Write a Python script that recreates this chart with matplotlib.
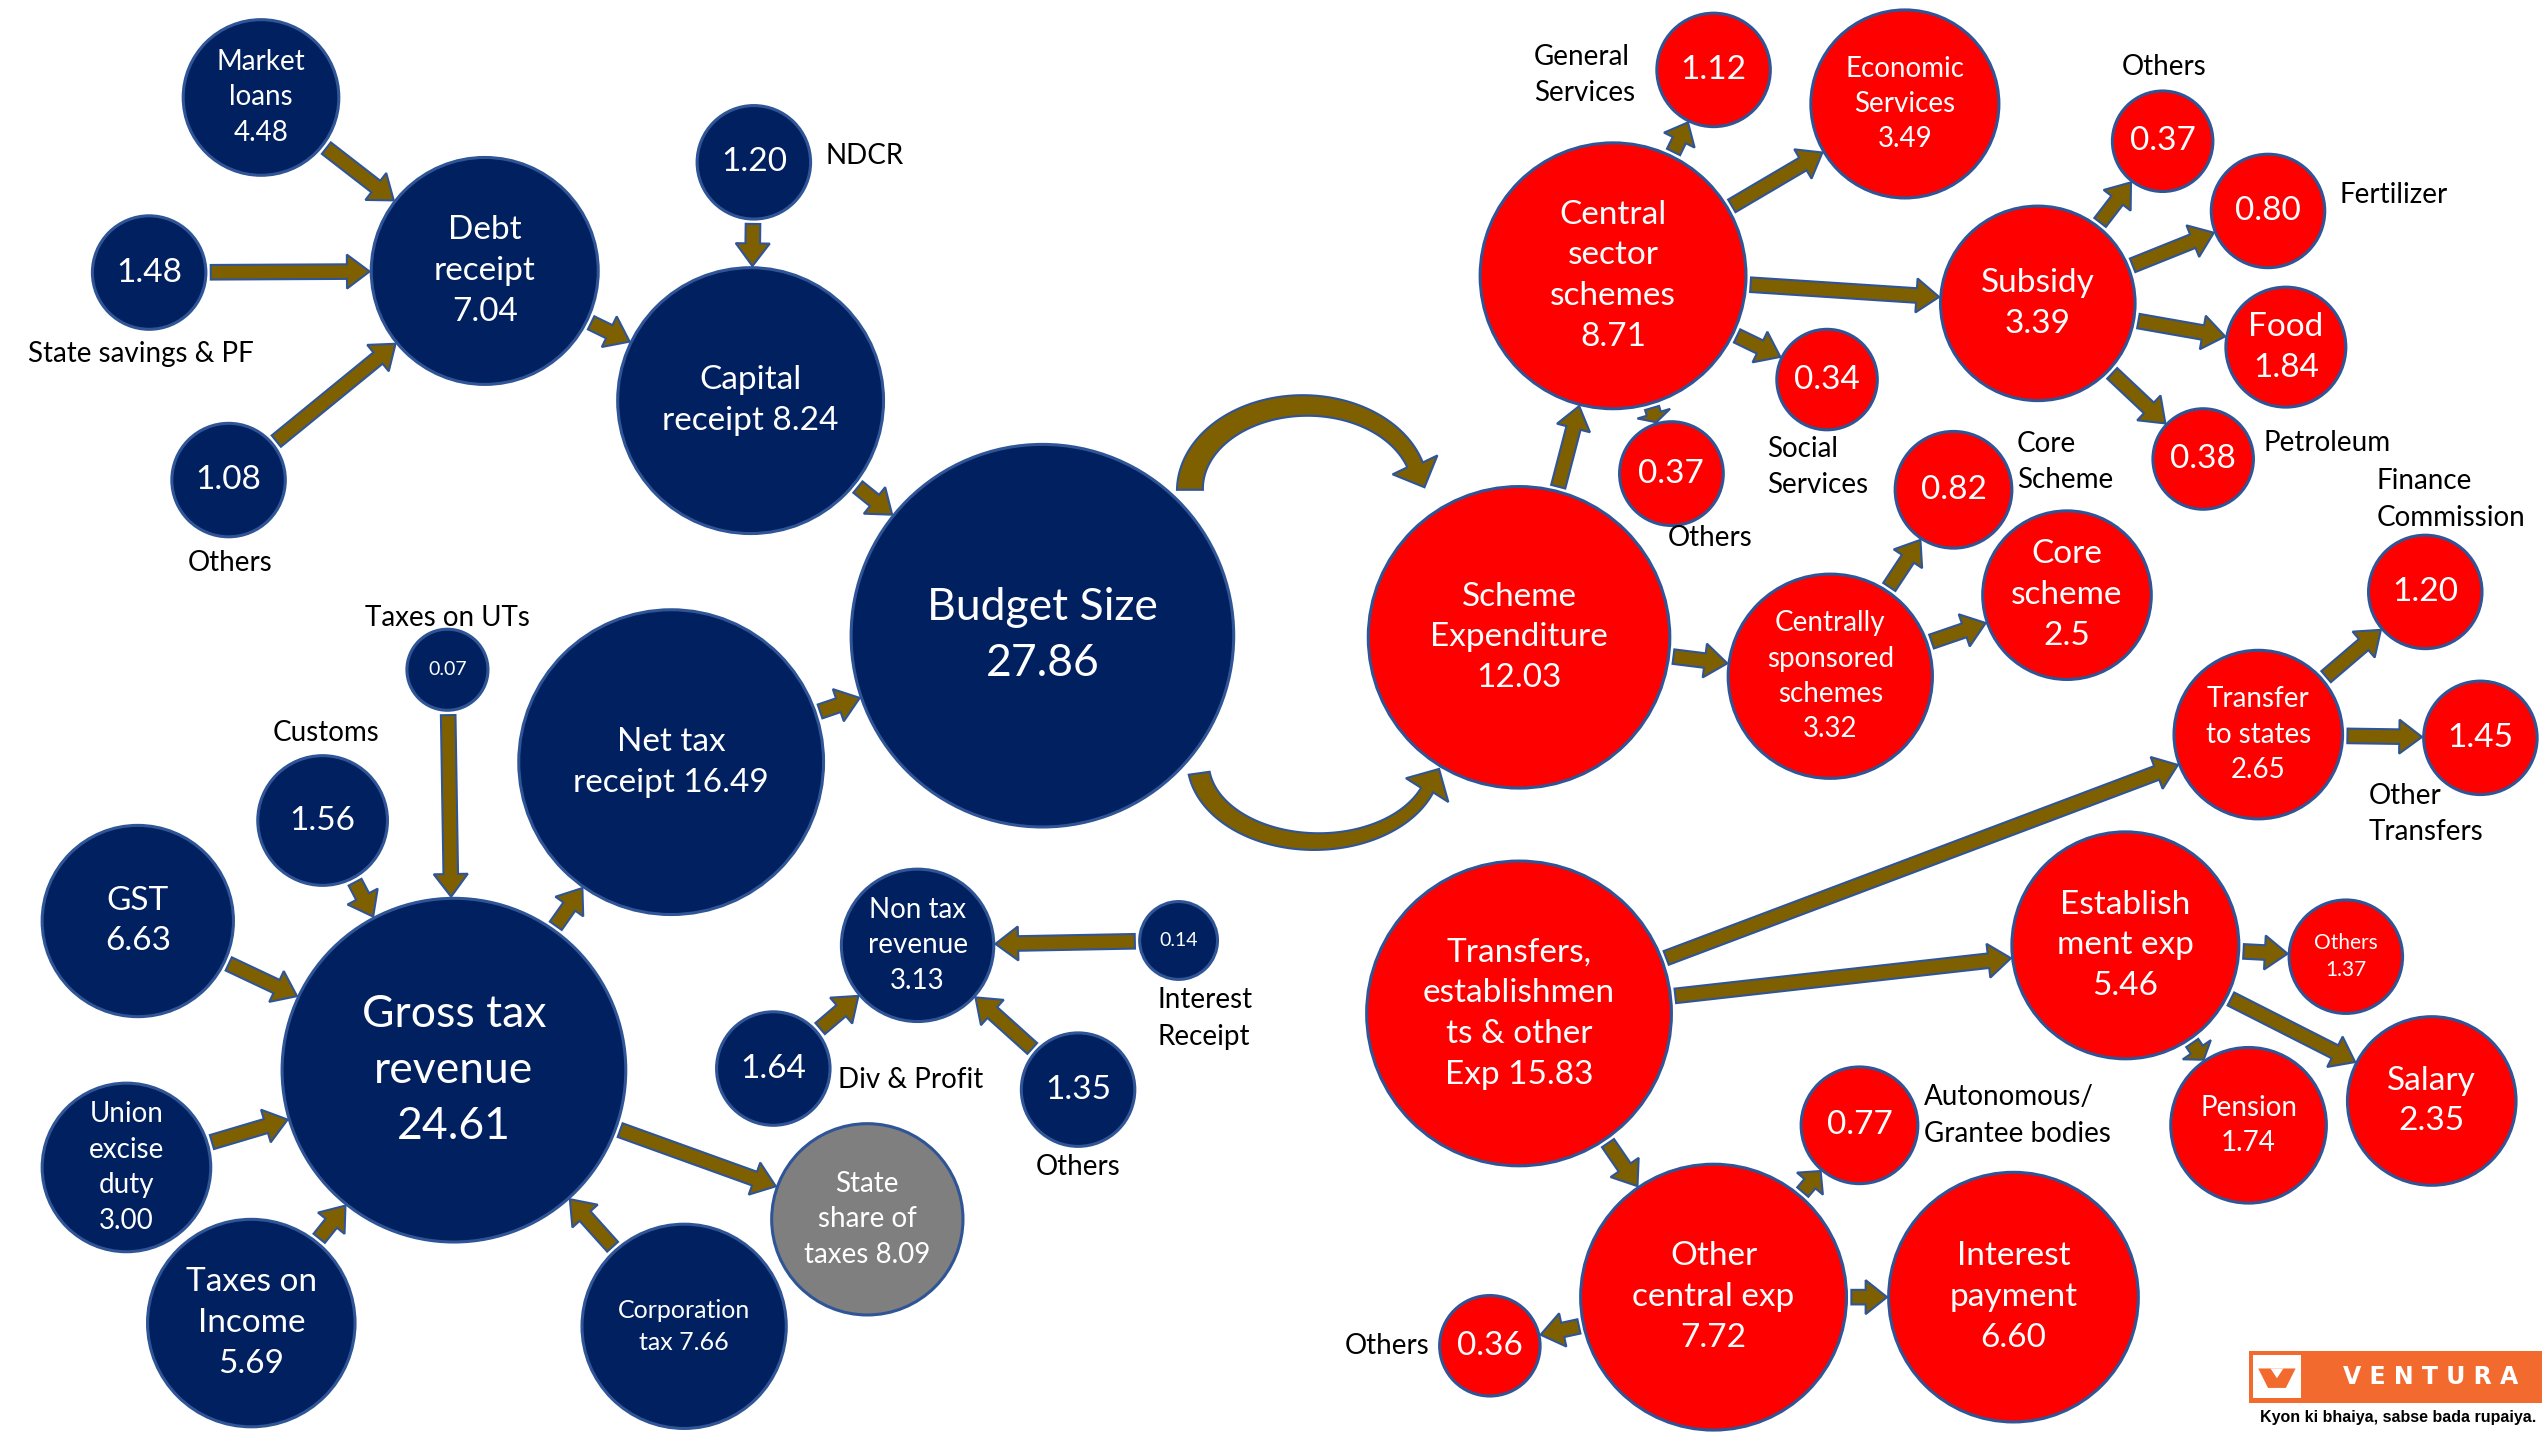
import numpy as np
import matplotlib
matplotlib.use("Agg")
import matplotlib.pyplot as plt
import matplotlib.patches as mpatches

plt.rcParams['font.family'] = ['Lato', 'DejaVu Sans']

# ---------------- data ----------------
node_keys = [
    "market", "debt", "savings", "dothers", "ndcr", "capital", "budget", "nettax",
    "uts", "customs", "gst", "gross", "excise", "income", "corp", "stateshare",
    "nontax", "interest_rec", "div", "ntothers",
    "scheme", "central", "general", "economic", "subsidy", "subothers", "fert",
    "food", "petro", "social", "csothers", "css", "core1", "core2", "fc",
    "tstates", "othertr", "transfers", "estab", "estothers", "salary", "pension",
    "auton", "othercentral", "intpay", "ocothers",
]
node_labels = [
    "Market\nloans\n{}", "Debt\nreceipt\n{}", "{}", "{}", "{}", "Capital\nreceipt {}",
    "Budget Size\n{}", "Net tax\nreceipt {}",
    "{}", "{}", "GST\n{}", "Gross tax\nrevenue\n{}", "Union\nexcise\nduty\n{}",
    "Taxes on\nIncome\n{}", "Corporation\ntax {}", "State\nshare of\ntaxes {}",
    "Non tax\nrevenue\n{}", "{}", "{}", "{}",
    "Scheme\nExpenditure\n{}", "Central\nsector\nschemes\n{}", "{}", "Economic\nServices\n{}",
    "Subsidy\n{}", "{}", "{}", "Food\n{}", "{}", "{}", "{}",
    "Centrally\nsponsored\nschemes\n{}", "{}", "Core\nscheme\n{}", "{}",
    "Transfer\nto states\n{}", "{}", "Transfers,\nestablishmen\nts & other\nExp {}",
    "Establish\nment exp\n{}", "Others\n{}", "Salary\n{}", "Pension\n{}",
    "{}", "Other\ncentral exp\n{}", "Interest\npayment\n{}", "{}",
]
node_values = [
    4.48, 7.04, 1.48, 1.08, 1.20, 8.24, 27.86, 16.49,
    0.07, 1.56, 6.63, 24.61, 3.00, 5.69, 7.66, 8.09,
    3.13, 0.14, 1.64, 1.35,
    12.03, 8.71, 1.12, 3.49, 3.39, 0.37, 0.80, 1.84, 0.38, 0.34, 0.37,
    3.32, 0.82, 2.5, 1.20, 2.65, 1.45, 15.83, 5.46, 1.37, 2.35, 1.74,
    0.77, 7.72, 6.60, 0.36,
]
node_decimals = [2] * len(node_values)
node_decimals[node_keys.index("core2")] = 1

edges = [
    ("market", "debt"), ("savings", "debt"), ("dothers", "debt"), ("ndcr", "capital"),
    ("debt", "capital"), ("capital", "budget"), ("nettax", "budget"),
    ("uts", "gross"), ("customs", "gross"), ("gst", "gross"), ("excise", "gross"),
    ("income", "gross"), ("corp", "gross"), ("gross", "stateshare"), ("gross", "nettax"),
    ("interest_rec", "nontax"), ("div", "nontax"), ("ntothers", "nontax"),
    ("scheme", "central"), ("central", "general"), ("central", "economic"),
    ("central", "subsidy"), ("central", "social"), ("central", "csothers"),
    ("subsidy", "subothers"), ("subsidy", "fert"), ("subsidy", "food"), ("subsidy", "petro"),
    ("scheme", "css"), ("css", "core1"), ("css", "core2"),
    ("tstates", "fc"), ("tstates", "othertr"), ("transfers", "tstates"),
    ("transfers", "estab"), ("transfers", "othercentral"),
    ("estab", "estothers"), ("estab", "salary"), ("estab", "pension"),
    ("othercentral", "auton"), ("othercentral", "intpay"), ("othercentral", "ocothers"),
]

outside_labels = [
    "State savings & PF", "Others", "NDCR", "Taxes on UTs", "Customs",
    "Interest\nReceipt", "Div & Profit", "Others",
    "General\nServices", "Others", "Fertilizer", "Petroleum", "Social\nServices",
    "Others", "Core\nScheme", "Finance\nCommission", "Other\nTransfers",
    "Autonomous/\nGrantee bodies", "Others",
]

# ---------------- layout (canvas units, y down) ----------------
NAVY, RED, GREY = "#002060", "#FF0000", "#7F7F7F"
node_pos = {
    "market": (161, 60, 48), "debt": (299, 167, 70), "savings": (92, 168, 35),
    "dothers": (141, 296, 35), "ndcr": (465, 100, 35), "capital": (463, 247, 82),
    "budget": (643, 392, 118), "nettax": (414, 470, 94), "uts": (276, 413, 25),
    "customs": (199, 506, 40), "gst": (85, 568, 59), "gross": (280, 660, 106),
    "excise": (78, 720, 52), "income": (155, 816, 64), "corp": (422, 818, 63),
    "stateshare": (535, 752, 59), "nontax": (566, 583, 47), "interest_rec": (727, 580, 24),
    "div": (477, 659, 35), "ntothers": (665, 672, 35),
    "scheme": (937, 393, 93), "central": (995, 170, 82), "general": (1057, 43, 35),
    "economic": (1175, 64, 58), "subsidy": (1257, 187, 60), "subothers": (1334, 87, 31),
    "fert": (1399, 130, 35), "food": (1410, 214, 37), "petro": (1359, 283, 31),
    "social": (1127, 234, 31), "csothers": (1031, 292, 32), "css": (1129, 417, 63),
    "core1": (1205, 302, 36), "core2": (1275, 367, 52), "fc": (1496, 365, 35),
    "tstates": (1393, 453, 52), "othertr": (1530, 455, 35), "transfers": (937, 625, 94),
    "estab": (1311, 583, 70), "estothers": (1447, 590, 35), "salary": (1500, 679, 52),
    "pension": (1387, 694, 48), "auton": (1147, 694, 36), "othercentral": (1057, 800, 82),
    "intpay": (1242, 800, 77), "ocothers": (919, 830, 31),
}
right_side = set(node_keys[node_keys.index("scheme"):])
fs = {"budget": 32, "gross": 32, "uts": 14, "interest_rec": 14, "estothers": 15,
      "market": 20, "excise": 20, "corp": 18, "stateshare": 20, "nontax": 20,
      "economic": 20, "css": 20, "tstates": 20, "pension": 20}
outside_pos = [
    (87, 218, "center"), (142, 347, "center"), (509, 96, "left"), (276, 381, "center"),
    (201, 452, "center"), (714, 628, "left"), (517, 666, "left"), (665, 720, "center"),
    (946, 46, "left"), (1335, 41, "center"), (1443, 120, "left"), (1396, 273, "left"),
    (1090, 288, "left"), (1029, 332, "left"), (1244, 285, "left"), (1466, 308, "left"),
    (1461, 502, "left"), (1187, 688, "left"), (882, 830, "right"),
]

ARROW_FC, ARROW_EC = "#7F6000", "#2F5597"

fig = plt.figure(figsize=(25.42, 14.40), dpi=100)
ax = fig.add_axes([0, 0, 1, 1])
ax.set_xlim(0, 1568)
ax.set_ylim(888, 0)
ax.set_aspect("equal")
ax.axis("off")

# circles
for k, lab, v, d in zip(node_keys, node_labels, node_values, node_decimals):
    x, y, r = node_pos[k]
    if k == "stateshare":
        col = GREY
    elif k in right_side:
        col = RED
    else:
        col = NAVY
    ax.add_patch(mpatches.Circle((x, y), r, fc=col, ec="#2F5597", lw=2.2, zorder=2))
    txt = lab.format(f"{v:.{d}f}")
    ax.text(x, y, txt, ha="center", va="center", color="white",
            fontsize=fs.get(k, 24), linespacing=1.45, zorder=5)

# straight arrows
for a, b in edges:
    x0, y0, r0 = node_pos[a]
    x1, y1, r1 = node_pos[b]
    d = np.array([x1 - x0, y1 - y0], float)
    L = np.hypot(*d)
    u = d / L
    s = np.array([x0, y0]) + u * (r0 + 3)
    e = np.array([x1, y1]) - u * (r1 + 1)
    v = e - s
    ax.add_patch(mpatches.FancyArrow(s[0], s[1], v[0], v[1], width=9, head_width=21,
                                     head_length=min(14, np.hypot(*v) * 0.6),
                                     length_includes_head=True, fc=ARROW_FC,
                                     ec=ARROW_EC, lw=1.5, zorder=3))


def curved_arrow(cx, cy, a, b, t0, t1, h0, h1, sign, hw=15, hl=15):
    ts = np.linspace(t0, t1, 80)
    hs = np.linspace(h0, h1, 80)
    outer, inner = [], []
    for t, h in zip(ts, hs):
        outer.append((cx + (a + h) * np.cos(t), cy - sign * (b + h) * np.sin(t)))
        inner.append((cx + (a - h) * np.cos(t), cy - sign * (b - h) * np.sin(t)))
    te = ts[-1]
    mid = np.array([cx + a * np.cos(te), cy - sign * b * np.sin(te)])
    tan = np.array([a * np.sin(te), sign * b * np.cos(te)])
    tan /= np.hypot(*tan)
    nrm = np.array([-tan[1], tan[0]])
    hb1 = mid + nrm * hw
    hb2 = mid - nrm * hw
    tip = mid + tan * hl
    o_end = np.array(outer[-1])
    if np.dot(hb1 - mid, o_end - mid) > 0:
        ho, hi = hb1, hb2
    else:
        ho, hi = hb2, hb1
    pts = outer + [tuple(ho), tuple(tip), tuple(hi)] + inner[::-1]
    ax.add_patch(mpatches.Polygon(pts, closed=True, fc=ARROW_FC, ec=ARROW_EC,
                                  lw=1.5, zorder=3))


curved_arrow(805, 302, 71, 52, np.pi, 0.30, 8, 5, 1)
curved_arrow(812, 470, 73, 49, np.pi - 0.14, 0.36, 6.5, 4, -1)

# outside labels
for t, (x, y, ha) in zip(outside_labels, outside_pos):
    ax.text(x, y, t, ha=ha, va="center", color="black", fontsize=20,
            linespacing=1.5, zorder=5)

# logo
ax.add_patch(mpatches.Rectangle((1387, 833), 181, 32, fc="#F26A2E", ec="none", zorder=6))
ax.add_patch(mpatches.Rectangle((1389.5, 835.5), 30, 27, fc="white", ec="none", zorder=7))
ax.add_patch(mpatches.Polygon([(1393, 844), (1416, 844), (1410, 856), (1399, 856)],
                              closed=True, fc="#F26A2E", ec="none", zorder=8))
ax.add_patch(mpatches.Polygon([(1400.5, 844), (1408.5, 844), (1404.5, 850)],
                              closed=True, fc="white", ec="none", zorder=9))
ax.text(1499, 849, "V E N T U R A", ha="center", va="center", color="white",
        fontsize=17, fontweight="bold", family=["DejaVu Sans"], zorder=8)
ax.text(1479, 874, "Kyon ki bhaiya, sabse bada rupaiya.", ha="center", va="center",
        color="black", fontsize=11.5, fontweight="bold", family=["Liberation Sans", "DejaVu Sans"],
        zorder=8)

fig.savefig("out.png", dpi=100, facecolor="white")
